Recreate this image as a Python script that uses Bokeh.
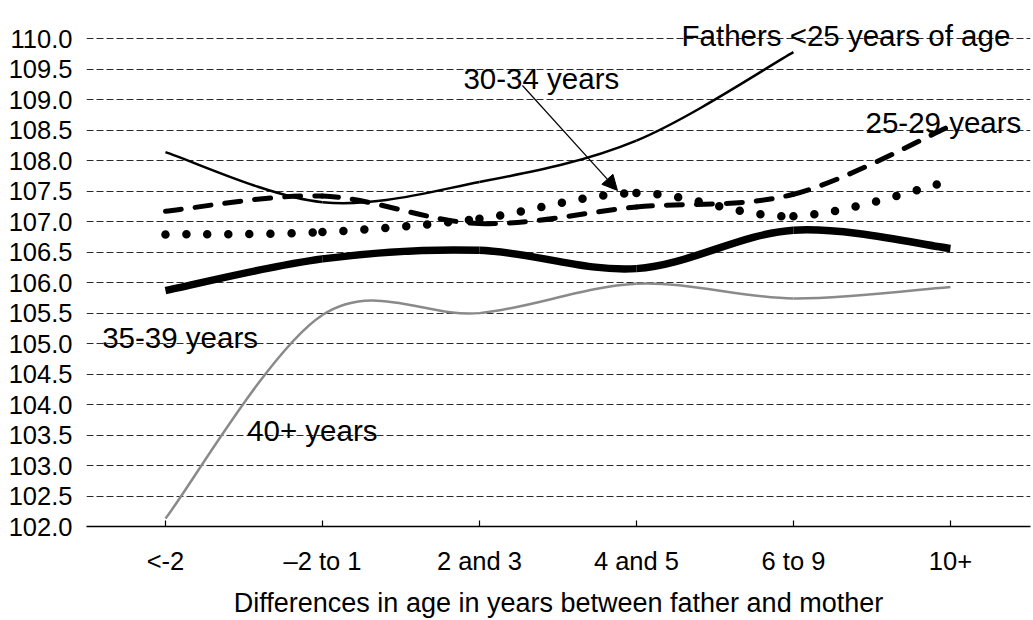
from bokeh.plotting import figure
from bokeh.models import Range1d, FixedTicker, Label, Arrow, NormalHead, ColumnDataSource, PrintfTickFormatter
from bokeh.embed import file_html
from bokeh.resources import INLINE

# ---- data ----
categories = ["<-2", "\u20132 to 1", "2 and 3", "4 and 5", "6 to 9", "10+"]
fathers_lt25 = [108.14, 107.32, 107.65, 108.33, 109.78, None]
fathers_25_29 = [107.17, 107.42, 106.97, 107.24, 107.45, 108.57]
fathers_30_34 = [106.79, 106.83, 107.05, 107.47, 107.09, 107.67]
fathers_35_39 = [105.87, 106.39, 106.53, 106.23, 106.86, 106.56]
fathers_40_plus = [102.13, 105.47, 105.50, 105.98, 105.74, 105.93]
y_ticks = [102.0, 102.5, 103.0, 103.5, 104.0, 104.5, 105.0, 105.5, 106.0,
           106.5, 107.0, 107.5, 108.0, 108.5, 109.0, 109.5, 110.0]
series_labels = ["Fathers <25 years of age", "25-29 years", "30-34 years", "35-39 years", "40+ years"]
x_title = "Differences in age in years between father and mother"

FONT = "Liberation Sans"


def smooth_source(values):
    """Bezier segments (smoothed line through the data points)."""
    pts = [(i, v) for i, v in enumerate(values) if v is not None]
    xs = [p[0] for p in pts]
    ys = [p[1] for p in pts]
    n = len(pts)
    d = dict(x0=[], y0=[], x1=[], y1=[], cx0=[], cy0=[], cx1=[], cy1=[])
    for i in range(n - 1):
        a = max(i - 1, 0)
        b = min(i + 2, n - 1)
        d["x0"].append(xs[i]); d["y0"].append(ys[i])
        d["x1"].append(xs[i + 1]); d["y1"].append(ys[i + 1])
        d["cx0"].append(xs[i] + (xs[i + 1] - xs[a]) / 6.0)
        d["cy0"].append(ys[i] + (ys[i + 1] - ys[a]) / 6.0)
        d["cx1"].append(xs[i + 1] - (xs[b] - xs[i]) / 6.0)
        d["cy1"].append(ys[i + 1] - (ys[b] - ys[i]) / 6.0)
    return ColumnDataSource(d)


p = figure(width=1033, height=620, output_backend="svg", toolbar_location=None,
           x_range=Range1d(-0.503, 5.510), y_range=Range1d(102.0, 110.628),
           min_border_left=86, min_border_right=3, min_border_top=0, min_border_bottom=93)
p.outline_line_color = None
p.background_fill_color = "white"
p.border_fill_color = "white"

# grid
p.xgrid.grid_line_color = None
p.ygrid.ticker = FixedTicker(ticks=y_ticks)
p.ygrid.grid_line_color = "#2b2b2b"
p.ygrid.grid_line_dash = "7 3"
p.ygrid.grid_line_width = 1

# y axis
p.yaxis.ticker = FixedTicker(ticks=y_ticks)
p.yaxis.formatter = PrintfTickFormatter(format="%.1f")
p.yaxis.axis_line_color = None
p.yaxis.major_tick_line_color = None
p.yaxis.major_tick_in = 0
p.yaxis.major_tick_out = 0
p.yaxis.minor_tick_line_color = None
p.yaxis.minor_tick_in = 0
p.yaxis.minor_tick_out = 0
p.yaxis.major_label_standoff = 14
p.yaxis.major_label_text_font = FONT
p.yaxis.major_label_text_font_size = "25.5px"
p.yaxis.major_label_text_color = "black"

# x axis
p.xaxis.ticker = FixedTicker(ticks=list(range(len(categories))))
p.xaxis.major_label_overrides = {i: c for i, c in enumerate(categories)}
p.xaxis.axis_line_color = "black"
p.xaxis.axis_line_width = 1.5
p.xaxis.major_tick_in = 6
p.xaxis.major_tick_out = 0
p.xaxis.major_tick_line_color = "black"
p.xaxis.major_tick_line_width = 1.2
p.xaxis.minor_tick_line_color = None
p.xaxis.minor_tick_in = 0
p.xaxis.minor_tick_out = 0
p.xaxis.major_label_standoff = 20
p.xaxis.major_label_text_font = FONT
p.xaxis.major_label_text_font_size = "25.5px"
p.xaxis.major_label_text_color = "black"
p.xaxis.axis_label = x_title
p.xaxis.axis_label_text_font = FONT
p.xaxis.axis_label_text_font_size = "27px"
p.xaxis.axis_label_text_font_style = "normal"
p.xaxis.axis_label_text_color = "black"
p.xaxis.axis_label_standoff = 10

# lines
bz = dict(x0="x0", y0="y0", x1="x1", y1="y1", cx0="cx0", cy0="cy0", cx1="cx1", cy1="cy1")
p.bezier(source=smooth_source(fathers_40_plus), line_color="#8a8a8a", line_width=2.5, **bz)
p.bezier(source=smooth_source(fathers_35_39), line_color="black", line_width=7.5, **bz)
p.bezier(source=smooth_source(fathers_30_34), line_color="black", line_width=8.5,
         line_dash="0 21", line_cap="round", **bz)
p.bezier(source=smooth_source(fathers_25_29), line_color="black", line_width=5,
         line_dash="16 14", line_cap="round", **bz)
p.bezier(source=smooth_source(fathers_lt25), line_color="black", line_width=2.5, **bz)

# labels
label_pos = [(3.287, 110.054), (4.459, 108.633), (1.898, 109.344), (-0.403, 105.108), (0.520, 103.579)]
for txt, (lx, ly) in zip(series_labels, label_pos):
    p.add_layout(Label(x=lx, y=ly, text=txt, text_font=FONT, text_font_size="29.5px",
                       text_baseline="alphabetic", text_align="left", text_color="black"))

p.add_layout(Arrow(end=NormalHead(size=15, fill_color="black", line_color="black"),
                   x_start=2.274, y_start=109.234, x_end=2.879, y_end=107.513,
                   line_color="black", line_width=1.2))

open("out.html", "w").write(file_html(p, INLINE))
